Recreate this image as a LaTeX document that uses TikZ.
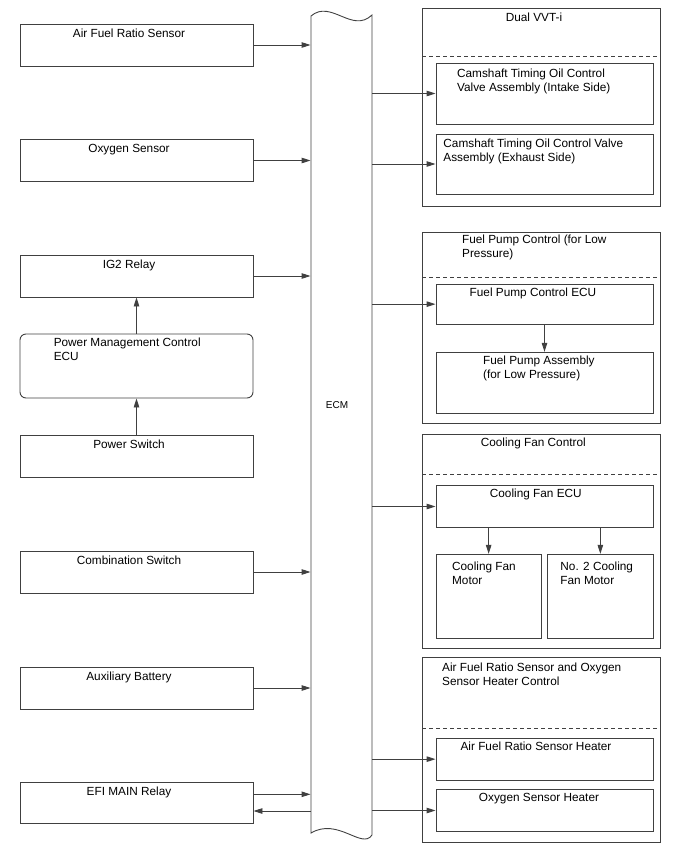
\documentclass[tikz,border=0pt]{standalone}
\usepackage{fontspec}
\setmainfont{Liberation Sans}
\usetikzlibrary{arrows.meta}
\definecolor{linec}{gray}{0.25}
\tikzset{
  box/.style={draw=linec, line width=0.9pt, inner sep=0pt},
  lbox/.style={box, minimum width=233pt, minimum height=42pt},
  gbox/.style={box, minimum width=237.3pt},
  ibox/.style={box, minimum width=217pt},
  txt/.style={inner sep=0pt, anchor=base, align=center, font=\fontsize{11.8}{14}\selectfont},
  ltxt/.style={txt, anchor=base west, align=left},
  divider/.style={draw=linec, line width=0.9pt, dash pattern=on 4pt off 3pt}
}
\begin{document}
\begin{tikzpicture}[x=1pt, y=-1pt, >={Triangle[length=9pt,width=5.5pt]}, line width=0.9pt, draw=linec]
\useasboundingbox (0,0) rectangle (688,852);

\node[lbox](afr) at (136.5,45){};
\node[lbox](oxy) at (136.5,160.5){};
\node[lbox](ig2) at (136.5,276){};
\node[lbox, minimum height=64pt, rounded corners=6pt](pmc) at (136.5,366){};
\node[lbox](psw) at (136.5,456){};
\node[lbox](comb) at (136.5,572){};
\node[lbox](aux) at (136.5,688){};
\node[lbox, minimum height=41pt](efi) at (136.5,802.5){};
\node[txt](tafr) at (129,37){Air Fuel Ratio Sensor};
\node[txt](toxy) at (129,152.5){Oxygen Sensor};
\node[txt](tig2) at (129,268){IG2 Relay};
\node[ltxt](tpmc) at (53.3,360){Power Management Control\\ECU};
\node[txt](tpsw) at (129,448){Power Switch};
\node[txt](tcomb) at (129,564){Combination Switch};
\node[txt](taux) at (129,680){Auxiliary Battery};
\node[txt](tefi) at (129,795){EFI MAIN Relay};

\node[minimum width=61pt, minimum height=817pt, inner sep=0pt](ecm) at (341.5,424.5){};
\draw[linec] (311,833) -- (311,16) .. controls (331,-1) and (352,34) .. (372,15)
  -- (372,835) .. controls (362,850) and (338,817) .. (311,833) -- cycle;
\node[txt, font=\fontsize{10}{12}\selectfont](tecm) at (337,408){ECM};

\node[gbox, minimum height=198pt](vvt) at (541.35,107){};
\node[ibox, minimum height=61pt](cam1) at (544.5,93.5){};
\node[ibox, minimum height=60pt](cam2) at (544.5,164){};
\node[txt](tvvt) at (534,21){Dual VVT-i};
\node[ltxt](tcam1) at (456.7,91){Camshaft Timing Oil Control\\Valve Assembly (Intake Side)};
\node[ltxt](tcam2) at (443,161){Camshaft Timing Oil Control Valve\\Assembly (Exhaust Side)};

\node[gbox, minimum height=191.5pt](fp) at (541.35,327.75){};
\node[ibox, minimum height=40.3pt](fpecu) at (544.5,304.15){};
\node[ibox, minimum height=61pt](fpa) at (544.5,382.8){};
\node[ltxt](tfp) at (461.7,257){Fuel Pump Control (for Low\\Pressure)};
\node[txt](tfpecu) at (533,296){Fuel Pump Control ECU};
\node[ltxt](tfpa) at (482.7,378.3){Fuel Pump Assembly\\(for Low Pressure)};

\node[gbox, minimum height=214.3pt](cf) at (541.35,541.15){};
\node[ibox, minimum height=41.6pt](cfecu) at (544.5,506.5){};
\node[box, minimum width=105.3pt, minimum height=84pt](cfm1) at (488.65,596.3){};
\node[box, minimum width=105.3pt, minimum height=84pt](cfm2) at (600.35,596.3){};
\node[txt](tcf) at (533.3,446.7){Cooling Fan Control};
\node[txt](tcfecu) at (535.8,497.3){Cooling Fan ECU};
\node[ltxt](tcfm1) at (451.7,584){Cooling Fan\\Motor};
\node[ltxt](tcfm2) at (560,584){No. 2 Cooling\\Fan Motor};

\node[gbox, minimum height=185pt](ht) at (541.35,749.8){};
\node[ibox, minimum height=41.7pt](afrh) at (544.5,759.15){};
\node[ibox, minimum height=42.4pt](o2h) at (544.5,810.5){};
\node[ltxt](tht) at (441.7,685){Air Fuel Ratio Sensor and Oxygen\\Sensor Heater Control};
\node[txt](tafrh) at (536,750){Air Fuel Ratio Sensor Heater};
\node[txt](to2h) at (539,801){Oxygen Sensor Heater};

\draw[divider](vvt.west |- 0,56) -- (vvt.east |- 0,56);
\draw[divider](fp.west |- 0,277.3) -- (fp.east |- 0,277.3);
\draw[divider](cf.west |- 0,474) -- (cf.east |- 0,474);
\draw[divider](ht.west |- 0,728.3) -- (ht.east |- 0,728.3);

\draw[->](afr.east) -- (afr.east -| ecm.west);
\draw[->](oxy.east) -- (oxy.east -| ecm.west);
\draw[->](ig2.east) -- (ig2.east -| ecm.west);
\draw[->](comb.east) -- (comb.east -| ecm.west);
\draw[->](aux.east) -- (aux.east -| ecm.west);
\draw[->]([yshift=8.2pt]efi.east) -- ([yshift=8.2pt]efi.east -| ecm.west);
\draw[->]([yshift=-8.5pt]efi.east -| ecm.west) -- ([yshift=-8.5pt]efi.east);
\draw[->](psw.north) -- (pmc.south);
\draw[->](pmc.north) -- (ig2.south);

\draw[->](cam1.west -| ecm.east) -- (cam1.west);
\draw[->](cam2.west -| ecm.east) -- (cam2.west);
\draw[->](fpecu.west -| ecm.east) -- (fpecu.west);
\draw[->](cfecu.west -| ecm.east) -- (cfecu.west);
\draw[->](afrh.west -| ecm.east) -- (afrh.west);
\draw[->](o2h.west -| ecm.east) -- (o2h.west);
\draw[->](fpecu.south) -- (fpa.north);
\draw[->](cfm1.north |- cfecu.south) -- (cfm1.north);
\draw[->](cfm2.north |- cfecu.south) -- (cfm2.north);
\end{tikzpicture}
\end{document}
